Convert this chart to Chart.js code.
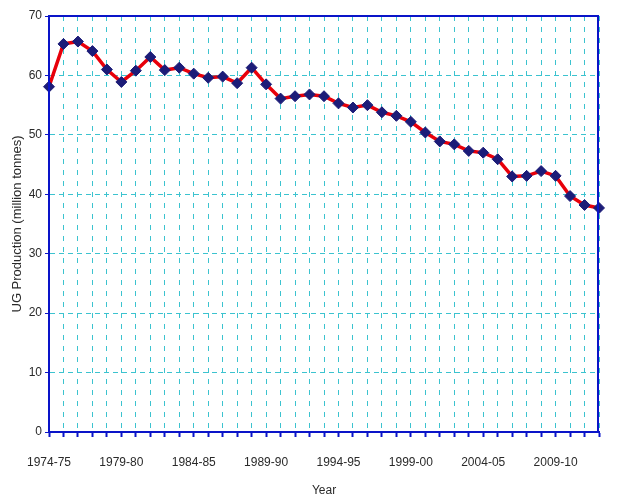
<!DOCTYPE html>
<html>
<head>
<meta charset="utf-8">
<script src="https://cdn.jsdelivr.net/npm/chart.js@4/dist/chart.umd.min.js"></script>
<style>
html,body{margin:0;padding:0;background:#fff;}
#wrap{width:617px;height:500px;position:relative;}
</style>
</head>
<body>
<div id="wrap"><canvas id="c" width="617" height="500"></canvas></div>
<script>
const years = ["1974-75","1975-76","1976-77","1977-78","1978-79","1979-80","1980-81","1981-82","1982-83","1983-84",
"1984-85","1985-86","1986-87","1987-88","1988-89","1989-90","1990-91","1991-92","1992-93","1993-94",
"1994-95","1995-96","1996-97","1997-98","1998-99","1999-00","2000-01","2001-02","2002-03","2003-04",
"2004-05","2005-06","2006-07","2007-08","2008-09","2009-10","2010-11","2011-12","2012-13"];
const ugProduction = [58.1,65.3,65.7,64.1,61.0,58.9,60.8,63.1,60.9,61.3,
60.3,59.6,59.8,58.7,61.3,58.5,56.1,56.5,56.8,56.5,
55.3,54.6,55.0,53.8,53.2,52.2,50.4,48.9,48.4,47.3,
47.0,45.9,43.0,43.1,43.9,43.1,39.7,38.2,37.7];
const yTicks = [0,10,20,30,40,50,60,70];

const frame = {
  id:'frame',
  afterDraw(chart){
    const {ctx, chartArea:a} = chart;
    ctx.save();
    ctx.strokeStyle = '#0a14c8';
    ctx.lineWidth = 2;
    ctx.setLineDash([]);
    ctx.strokeRect(a.left, a.top, a.right - a.left - 1, a.bottom - a.top);
    ctx.restore();
  }
};

const FONT = '"Liberation Sans Narrow","Arial Narrow","Liberation Sans",Arial';

new Chart(document.getElementById('c'), {
  type:'line',
  data:{
    labels: years,
    datasets:[{
      data: ugProduction,
      borderColor:'#e8000a',
      borderWidth:3.5,
      pointStyle:'rectRot',
      pointRadius:5.5,
      pointBackgroundColor:'#1c1c78',
      pointBorderColor:'#1c1c78',
      pointBorderWidth:1,
      tension:0,
      clip:false
    }]
  },
  options:{
    responsive:false,
    animation:false,
    events:[],
    layout:{padding:{top:16,right:1,left:0,bottom:2}},
    plugins:{legend:{display:false},tooltip:{enabled:false}},
    scales:{
      x:{
        afterFit(s){ s.height = 66; },
        grid:{color:'#3cc3cf', lineWidth:1, tickColor:'#0a14c8', tickLength:5, tickWidth:2, tickBorderDash:[]},
        border:{color:'#0a14c8', width:2, dash:[5,6]},
        ticks:{
          autoSkip:false, maxRotation:0, padding:18, color:'#2a2a2a',
          font:{family:FONT, size:12},
          callback:(v,i)=> i%5===0 ? years[i] : ''
        },
        title:{display:true, text:'Year', color:'#2a2a2a', padding:{top:8,bottom:0},
          font:{family:FONT, size:12}}
      },
      y:{
        min:0, max:70,
        afterFit(s){ s.width = 49; },
        afterBuildTicks(s){ s.ticks = yTicks.map(v=>({value:v})); },
        grid:{color:'#3cc3cf', lineWidth:1, tickColor:'#0a14c8', tickLength:4, tickBorderDash:[]},
        border:{color:'#0a14c8', width:2, dash:[5,4]},
        ticks:{color:'#2a2a2a', padding:3,
          font:{family:FONT, size:12}},
        title:{display:true, text:'UG Production (million tonnes)', color:'#2a2a2a', padding:{top:10,bottom:2},
          font:{family:'"Liberation Sans",Arial', size:13}}
      }
    }
  },
  plugins:[frame]
});
</script>
</body>
</html>
